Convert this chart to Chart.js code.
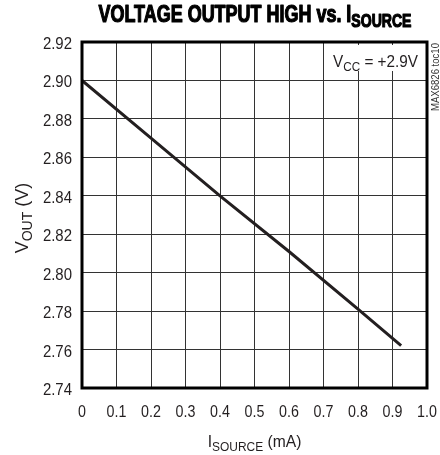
<!DOCTYPE html>
<html>
<head>
<meta charset="utf-8">
<script src="https://cdn.jsdelivr.net/npm/chart.js@4.4.1/dist/chart.umd.min.js"></script>
<style>
  html, body { margin: 0; padding: 0; background: #fff; }
  #chart { display: block; }
</style>
</head>
<body>
<canvas id="chart" width="440" height="455"></canvas>
<script>
// values
const currentMA = [0, 0.2, 0.4, 0.6, 0.8, 0.925];
const voutV = [2.900, 2.870, 2.840, 2.811, 2.781, 2.762];

const xMin = 0, xMax = 1.0, xStep = 0.1;
const yMin = 2.74, yMax = 2.92, yStep = 0.02;

const FONT = "'Liberation Sans', Arial, sans-serif";
const INK = "#231f20";

const fmtX = (v) => v === 0 ? "0" : Number(v).toFixed(1);
const fmtY = (v) => Number(v).toFixed(2);

// text made of parts [[text, isSub], ...], squeezed horizontally by sx
function richWidth(ctx, parts, size, weight) {
    let w = 0;
    for (const [t, sub] of parts) {
        ctx.font = `${weight} ${sub ? Math.round(size * 0.78) : size}px ${FONT}`;
        w += ctx.measureText(t).width;
    }
    return w;
}

function drawRich(ctx, parts, x, y, size, weight, align, sx, heavy) {
    sx = sx || 1;
    const w = richWidth(ctx, parts, size, weight) * sx;
    let cx = align === "center" ? x - w / 2 : (align === "right" ? x - w : x);
    ctx.save();
    ctx.textBaseline = "alphabetic";
    ctx.textAlign = "left";
    for (const [t, sub] of parts) {
        const s = sub ? Math.round(size * 0.78) : size;
        ctx.font = `${weight} ${s}px ${FONT}`;
        const tw = ctx.measureText(t).width;
        ctx.save();
        ctx.translate(cx, y + (sub ? size * 0.22 : 0));
        ctx.scale(sx, 1);
        ctx.fillText(t, 0, 0);
        if (heavy) {
            ctx.strokeStyle = ctx.fillStyle;
            ctx.lineWidth = heavy;
            ctx.lineJoin = "round";
            ctx.strokeText(t, 0, 0);
        }
        ctx.restore();
        cx += tw * sx;
    }
    ctx.restore();
}

function fitScale(ctx, parts, size, weight, target) {
    return target / richWidth(ctx, parts, size, weight);
}

const textPlugin = {
    id: "textPlugin",
    afterDraw(chart) {
        const ctx = chart.ctx;
        const a = chart.chartArea;
        const xs = chart.scales.x, ys = chart.scales.y;
        ctx.save();
        ctx.fillStyle = INK;

        // tick labels, condensed
        for (const t of xs.ticks) {
            const px = xs.getPixelForValue(t.value);
            drawRich(ctx, [[fmtX(t.value), false]], px, 417, 17, "normal", "center", 0.84);
        }
        for (const t of ys.ticks) {
            const py = ys.getPixelForValue(t.value);
            drawRich(ctx, [[fmtY(t.value), false]], a.left - 10, py + 7, 17, "normal", "right", 0.88);
        }

        // title, heavy condensed
        ctx.fillStyle = "#000";
        const titleParts = [["VOLTAGE OUTPUT HIGH vs. I", false], ["SOURCE", true]];
        drawRich(ctx, titleParts, (a.left + a.right) / 2 + 0.5, 22, 23, "bold", "center",
            fitScale(ctx, titleParts, 23, "bold", 313), 1.2);
        ctx.fillStyle = INK;

        // x axis title
        drawRich(ctx, [["I", false], ["SOURCE", true], [" (mA)", false]],
            (a.left + a.right) / 2, 447, 17, "normal", "center", 0.92);

        // y axis title
        ctx.save();
        ctx.translate(28, (a.top + a.bottom) / 2 + 3);
        ctx.rotate(-Math.PI / 2);
        drawRich(ctx, [["V", false], ["OUT", true], [" (V)", false]], 0, 0, 18, "normal", "center", 1.0);
        ctx.restore();

        // supply annotation on a white box
        ctx.fillStyle = "#fff";
        ctx.fillRect(330, 45, a.right - 332, 26);
        ctx.fillStyle = INK;
        drawRich(ctx, [["V", false], ["CC", true], [" = +2.9V", false]], a.right - 9, 67, 17, "normal", "right", 0.9);

        // side tag
        const tag = [["MAX6826 toc10", false]];
        ctx.save();
        ctx.translate(439, 43);
        ctx.rotate(-Math.PI / 2);
        ctx.fillStyle = "#333";
        drawRich(ctx, tag, 0, 0, 10, "normal", "right", fitScale(ctx, tag, 10, "normal", 68));
        ctx.restore();

        // heavy frame
        ctx.strokeStyle = "#000";
        ctx.lineWidth = 3;
        ctx.strokeRect(a.left, a.top, a.right - a.left, a.bottom - a.top);
        ctx.restore();
    }
};

const ctx = document.getElementById("chart").getContext("2d");
new Chart(ctx, {
    type: "scatter",
    data: {
        datasets: [{
            data: currentMA.map((x, i) => ({ x: x, y: voutV[i] })),
            showLine: true,
            borderColor: INK,
            borderWidth: 3,
            pointRadius: 0,
            tension: 0
        }]
    },
    options: {
        responsive: false,
        animation: false,
        layout: { padding: { left: 20, right: 13, top: 42, bottom: 0 } },
        plugins: {
            legend: { display: false },
            tooltip: { enabled: false },
            title: { display: false }
        },
        scales: {
            x: {
                type: "linear",
                min: xMin, max: xMax,
                afterFit: (s) => { s.height = 67; },
                grid: { color: "#333", lineWidth: 1, drawTicks: false },
                border: { display: false },
                ticks: { stepSize: xStep, display: false, autoSkip: false }
            },
            y: {
                min: yMin, max: yMax,
                afterFit: (s) => { s.width = 62; },
                grid: { color: "#333", lineWidth: 1, drawTicks: false },
                border: { display: false },
                ticks: { stepSize: yStep, display: false, autoSkip: false }
            }
        }
    },
    plugins: [textPlugin]
});
</script>
</body>
</html>
